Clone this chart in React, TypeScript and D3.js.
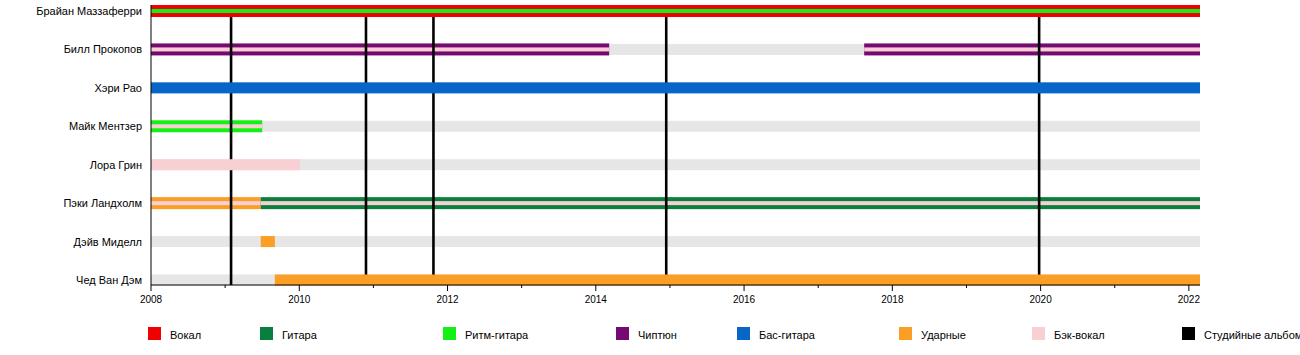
import React from "react";
import * as d3 from "d3";

const members = [
  "Брайан Маззаферри",
  "Билл Прокопов",
  "Хэри Рао",
  "Майк Ментзер",
  "Лора Грин",
  "Пэки Ландхолм",
  "Дэйв Миделл",
  "Чед Ван Дэм",
];

const roles = ["Вокал", "Гитара", "Ритм-гитара", "Чиптюн", "Бас-гитара", "Ударные", "Бэк-вокал"];
const roleColors = ["#f00000", "#087f3e", "#14f014", "#740a72", "#0866c8", "#fb9e26", "#f8d0d4"];
const albumLabel = "Студийные альбомы";

const startYear = 2008;
const endYear = 2022.15;

// [member, from, till, main role, stripe role]
const tenures: [string, number, number, string, string | null][] = [
  ["Брайан Маззаферри", 2008, endYear, "Вокал", "Ритм-гитара"],
  ["Билл Прокопов", 2008, 2014.18, "Чиптюн", "Бэк-вокал"],
  ["Билл Прокопов", 2017.62, endYear, "Чиптюн", "Бэк-вокал"],
  ["Хэри Рао", 2008, endYear, "Бас-гитара", null],
  ["Майк Ментзер", 2008, 2009.5, "Ритм-гитара", "Бэк-вокал"],
  ["Лора Грин", 2008, 2010.01, "Бэк-вокал", null],
  ["Пэки Ландхолм", 2008, 2009.48, "Ударные", "Бэк-вокал"],
  ["Пэки Ландхолм", 2009.48, endYear, "Гитара", "Бэк-вокал"],
  ["Дэйв Миделл", 2009.48, 2009.67, "Ударные", null],
  ["Чед Ван Дэм", 2009.67, endYear, "Ударные", null],
];

const albums = [2009.08, 2010.9, 2011.81, 2014.95, 2019.98];

const majorTicks = [2008, 2010, 2012, 2014, 2016, 2018, 2020, 2022];
const minorTicks = [2009, 2011, 2013, 2015, 2017, 2019, 2021];

// layout
const W = 1300;
const H = 355;
const plotLeft = 151;
const plotRight = 1200;
const axisY = 285;
const legendX = [148, 260, 443, 616, 737, 899, 1032, 1182];
const FONT = "'Liberation Sans', Arial, sans-serif";

export default function App() {
  const x = d3.scaleLinear().domain([startYear, endYear]).range([plotLeft, plotRight]);
  const y = d3.scalePoint<string>().domain(members).range([11, 280]);
  const color = d3.scaleOrdinal<string, string>().domain(roles).range(roleColors);

  const solidH = 11;
  const stripedH = 12;
  const stripeH = 4;

  const striped = tenures.filter((t) => t[4] !== null);
  const solid = tenures.filter((t) => t[4] === null);
  const lineTop = (y(members[0]) as number) + stripedH / 2;

  return (
    <svg
      width={W}
      height={H}
      style={{ position: "absolute", left: 0, top: 0, background: "#fff" }}
      fontFamily={FONT}
    >
      {/* grey background bars */}
      {members.map((m) => (
        <rect
          key={"bg" + m}
          x={x(startYear)}
          y={(y(m) as number) - solidH / 2}
          width={x(endYear) - x(startYear)}
          height={solidH}
          fill="#e6e6e6"
        />
      ))}
      {/* striped bars */}
      {striped.map((t, i) => (
        <g key={"st" + i}>
          <rect
            x={x(t[1])}
            y={(y(t[0]) as number) - stripedH / 2}
            width={x(t[2]) - x(t[1])}
            height={stripedH}
            fill={color(t[3])}
          />
          <rect
            x={x(t[1])}
            y={(y(t[0]) as number) - stripeH / 2}
            width={x(t[2]) - x(t[1])}
            height={stripeH}
            fill={color(t[4] as string)}
          />
        </g>
      ))}
      {/* album lines */}
      {albums.map((a, i) => (
        <line
          key={"al" + i}
          x1={x(a)}
          x2={x(a)}
          y1={lineTop}
          y2={axisY}
          stroke="#000"
          strokeWidth={2.6}
        />
      ))}
      {/* solid bars */}
      {solid.map((t, i) => (
        <rect
          key={"so" + i}
          x={x(t[1])}
          y={(y(t[0]) as number) - solidH / 2}
          width={x(t[2]) - x(t[1])}
          height={solidH}
          fill={color(t[3])}
        />
      ))}
      {/* axes */}
      <line x1={plotLeft} x2={plotLeft} y1={5} y2={axisY} stroke="#000" strokeWidth={1} />
      <line x1={plotLeft} x2={plotRight} y1={axisY} y2={axisY} stroke="#000" strokeWidth={1} />
      {majorTicks.map((t) => (
        <g key={"mt" + t}>
          <line x1={x(t)} x2={x(t)} y1={axisY} y2={axisY + 6} stroke="#000" strokeWidth={1} />
          <text x={x(t)} y={axisY + 18} textAnchor="middle" fontSize={10} fill="#000">
            {t}
          </text>
        </g>
      ))}
      {minorTicks.map((t) => (
        <line key={"mn" + t} x1={x(t)} x2={x(t)} y1={axisY} y2={axisY + 3} stroke="#000" strokeWidth={1} />
      ))}
      {/* member labels */}
      {members.map((m) => (
        <text
          key={"lb" + m}
          x={142}
          y={(y(m) as number) + 4}
          textAnchor="end"
          fontSize={11}
          fill="#000"
        >
          {m}
        </text>
      ))}
      {/* legend */}
      {[...roles, albumLabel].map((r, i) => (
        <g key={"lg" + r}>
          <rect
            x={legendX[i]}
            y={327}
            width={13}
            height={13}
            fill={i < roles.length ? color(r) : "#000"}
          />
          <text x={legendX[i] + 22} y={339} fontSize={11} fill="#000">
            {r}
          </text>
        </g>
      ))}
    </svg>
  );
}
